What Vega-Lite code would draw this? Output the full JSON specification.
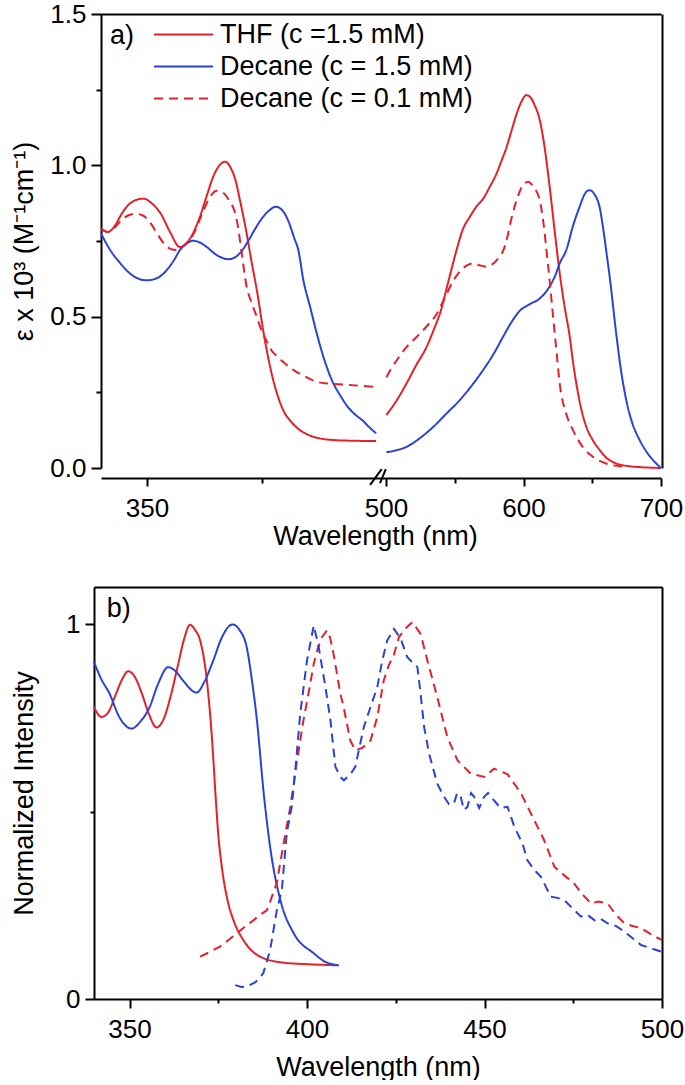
{
"$schema": "https://vega.github.io/schema/vega-lite/v6.json",
"background": "white",
"padding": {"left": 10, "top": 1, "right": 0, "bottom": 0},
"columns": 1,
"spacing": 38,
"config": {
  "font": "Liberation Sans",
  "view": {"stroke": null},
  "axis": {"domainColor": "#000", "domainWidth": 2, "tickColor": "#000", "tickWidth": 2, "labelColor": "#000", "titleColor": "#000", "labelFontSize": 26, "titleFontSize": 27, "titleFontWeight": "normal", "grid": false, "labelFont": "Liberation Sans", "titleFont": "Liberation Sans", "labelFlush": false, "labelOverlap": false},
  "legend": {"labelFont": "Liberation Sans", "labelFontSize": 27, "labelColor": "#000", "labelLimit": 500}
},
"resolve": {"scale": {"color": "independent", "strokeDash": "independent"}},
"concat": [
{
  "width": 568,
  "height": 454,
  "resolve": {"axis": {"x": "independent", "y": "independent"}},
  "layer": [
    {
      "data": {"values": [
        {"s":"T","g":"L","x":330,"y":0.79},{"s":"T","g":"L","x":333,"y":0.78},{"s":"T","g":"L","x":336,"y":0.8},{"s":"T","g":"L","x":339,"y":0.84},{"s":"T","g":"L","x":342,"y":0.87},{"s":"T","g":"L","x":345,"y":0.885},{"s":"T","g":"L","x":348.4,"y":0.89},{"s":"T","g":"L","x":352,"y":0.875},{"s":"T","g":"L","x":356,"y":0.84},{"s":"T","g":"L","x":360,"y":0.78},{"s":"T","g":"L","x":364.3,"y":0.73},{"s":"T","g":"L","x":368,"y":0.75},{"s":"T","g":"L","x":373,"y":0.83},{"s":"T","g":"L","x":376,"y":0.9},{"s":"T","g":"L","x":378.8,"y":0.963},{"s":"T","g":"L","x":381,"y":0.995},{"s":"T","g":"L","x":384,"y":1.012},{"s":"T","g":"L","x":386.5,"y":0.99},{"s":"T","g":"L","x":388.5,"y":0.95},{"s":"T","g":"L","x":390.4,"y":0.885},{"s":"T","g":"L","x":393.3,"y":0.776},{"s":"T","g":"L","x":395.5,"y":0.68},{"s":"T","g":"L","x":397.7,"y":0.59},{"s":"T","g":"L","x":401.3,"y":0.42},{"s":"T","g":"L","x":404.9,"y":0.29},{"s":"T","g":"L","x":409.3,"y":0.19},{"s":"T","g":"L","x":413,"y":0.15},{"s":"T","g":"L","x":416.5,"y":0.125},{"s":"T","g":"L","x":420,"y":0.11},{"s":"T","g":"L","x":425,"y":0.098},{"s":"T","g":"L","x":432,"y":0.092},{"s":"T","g":"L","x":440,"y":0.09},{"s":"T","g":"L","x":449.6,"y":0.089},
        {"s":"T","g":"R","x":500.3,"y":0.175},{"s":"T","g":"R","x":508,"y":0.225},{"s":"T","g":"R","x":515,"y":0.28},{"s":"T","g":"R","x":522,"y":0.34},{"s":"T","g":"R","x":529.5,"y":0.4},{"s":"T","g":"R","x":535,"y":0.46},{"s":"T","g":"R","x":539.2,"y":0.51},{"s":"T","g":"R","x":545,"y":0.61},{"s":"T","g":"R","x":551.3,"y":0.72},{"s":"T","g":"R","x":556,"y":0.79},{"s":"T","g":"R","x":561,"y":0.83},{"s":"T","g":"R","x":566,"y":0.865},{"s":"T","g":"R","x":570.7,"y":0.89},{"s":"T","g":"R","x":575,"y":0.925},{"s":"T","g":"R","x":580.4,"y":0.973},{"s":"T","g":"R","x":584,"y":1.015},{"s":"T","g":"R","x":587.7,"y":1.06},{"s":"T","g":"R","x":591,"y":1.11},{"s":"T","g":"R","x":595,"y":1.17},{"s":"T","g":"R","x":599,"y":1.215},{"s":"T","g":"R","x":602,"y":1.232},{"s":"T","g":"R","x":605,"y":1.225},{"s":"T","g":"R","x":608,"y":1.2},{"s":"T","g":"R","x":611.8,"y":1.15},{"s":"T","g":"R","x":615,"y":1.07},{"s":"T","g":"R","x":619,"y":0.93},{"s":"T","g":"R","x":622.5,"y":0.79},{"s":"T","g":"R","x":626,"y":0.655},{"s":"T","g":"R","x":630,"y":0.53},{"s":"T","g":"R","x":633.6,"y":0.435},{"s":"T","g":"R","x":636,"y":0.35},{"s":"T","g":"R","x":638.4,"y":0.28},{"s":"T","g":"R","x":642,"y":0.195},{"s":"T","g":"R","x":645.6,"y":0.137},{"s":"T","g":"R","x":650,"y":0.095},{"s":"T","g":"R","x":655.3,"y":0.06},{"s":"T","g":"R","x":660,"y":0.035},{"s":"T","g":"R","x":667.4,"y":0.015},{"s":"T","g":"R","x":675,"y":0.007},{"s":"T","g":"R","x":684.4,"y":0.003},{"s":"T","g":"R","x":700,"y":0.0},
        {"s":"B","g":"L","x":330,"y":0.775},{"s":"B","g":"L","x":334,"y":0.72},{"s":"B","g":"L","x":338,"y":0.68},{"s":"B","g":"L","x":341,"y":0.654},{"s":"B","g":"L","x":345,"y":0.63},{"s":"B","g":"L","x":350,"y":0.62},{"s":"B","g":"L","x":355,"y":0.63},{"s":"B","g":"L","x":358.6,"y":0.654},{"s":"B","g":"L","x":362,"y":0.69},{"s":"B","g":"L","x":364.3,"y":0.72},{"s":"B","g":"L","x":367,"y":0.74},{"s":"B","g":"L","x":370,"y":0.751},{"s":"B","g":"L","x":373,"y":0.745},{"s":"B","g":"L","x":376,"y":0.73},{"s":"B","g":"L","x":380,"y":0.705},{"s":"B","g":"L","x":385.4,"y":0.69},{"s":"B","g":"L","x":388,"y":0.695},{"s":"B","g":"L","x":391,"y":0.715},{"s":"B","g":"L","x":394,"y":0.75},{"s":"B","g":"L","x":397,"y":0.79},{"s":"B","g":"L","x":400,"y":0.825},{"s":"B","g":"L","x":403,"y":0.85},{"s":"B","g":"L","x":406,"y":0.863},{"s":"B","g":"L","x":409,"y":0.85},{"s":"B","g":"L","x":411.5,"y":0.815},{"s":"B","g":"L","x":414,"y":0.76},{"s":"B","g":"L","x":415.8,"y":0.72},{"s":"B","g":"L","x":418,"y":0.62},{"s":"B","g":"L","x":421,"y":0.53},{"s":"B","g":"L","x":423.8,"y":0.445},{"s":"B","g":"L","x":427,"y":0.36},{"s":"B","g":"L","x":431,"y":0.28},{"s":"B","g":"L","x":434,"y":0.24},{"s":"B","g":"L","x":437,"y":0.205},{"s":"B","g":"L","x":440,"y":0.18},{"s":"B","g":"L","x":444,"y":0.155},{"s":"B","g":"L","x":447,"y":0.132},{"s":"B","g":"L","x":449.6,"y":0.115},
        {"s":"B","g":"R","x":500.3,"y":0.052},{"s":"B","g":"R","x":507,"y":0.058},{"s":"B","g":"R","x":515,"y":0.07},{"s":"B","g":"R","x":525,"y":0.1},{"s":"B","g":"R","x":534.4,"y":0.136},{"s":"B","g":"R","x":544,"y":0.18},{"s":"B","g":"R","x":553.8,"y":0.225},{"s":"B","g":"R","x":562,"y":0.27},{"s":"B","g":"R","x":570.7,"y":0.324},{"s":"B","g":"R","x":578,"y":0.375},{"s":"B","g":"R","x":585.2,"y":0.434},{"s":"B","g":"R","x":591,"y":0.48},{"s":"B","g":"R","x":597.4,"y":0.52},{"s":"B","g":"R","x":604,"y":0.54},{"s":"B","g":"R","x":611.8,"y":0.56},{"s":"B","g":"R","x":616,"y":0.58},{"s":"B","g":"R","x":619,"y":0.6},{"s":"B","g":"R","x":623,"y":0.635},{"s":"B","g":"R","x":626.3,"y":0.676},{"s":"B","g":"R","x":631.1,"y":0.72},{"s":"B","g":"R","x":636,"y":0.8},{"s":"B","g":"R","x":640.8,"y":0.863},{"s":"B","g":"R","x":644.5,"y":0.905},{"s":"B","g":"R","x":648,"y":0.918},{"s":"B","g":"R","x":651.5,"y":0.905},{"s":"B","g":"R","x":655.3,"y":0.863},{"s":"B","g":"R","x":658,"y":0.79},{"s":"B","g":"R","x":660.1,"y":0.72},{"s":"B","g":"R","x":663,"y":0.62},{"s":"B","g":"R","x":667.4,"y":0.445},{"s":"B","g":"R","x":671,"y":0.32},{"s":"B","g":"R","x":674.7,"y":0.225},{"s":"B","g":"R","x":679,"y":0.15},{"s":"B","g":"R","x":684.4,"y":0.093},{"s":"B","g":"R","x":690,"y":0.05},{"s":"B","g":"R","x":695,"y":0.022},{"s":"B","g":"R","x":700,"y":0.0},
        {"s":"D","g":"L","x":330,"y":0.79},{"s":"D","g":"L","x":333,"y":0.78},{"s":"D","g":"L","x":336,"y":0.795},{"s":"D","g":"L","x":339,"y":0.82},{"s":"D","g":"L","x":342,"y":0.835},{"s":"D","g":"L","x":345,"y":0.84},{"s":"D","g":"L","x":348,"y":0.835},{"s":"D","g":"L","x":351,"y":0.815},{"s":"D","g":"L","x":354,"y":0.78},{"s":"D","g":"L","x":357,"y":0.745},{"s":"D","g":"L","x":360,"y":0.725},{"s":"D","g":"L","x":363,"y":0.72},{"s":"D","g":"L","x":366,"y":0.735},{"s":"D","g":"L","x":370,"y":0.77},{"s":"D","g":"L","x":374,"y":0.84},{"s":"D","g":"L","x":377,"y":0.89},{"s":"D","g":"L","x":380.3,"y":0.916},{"s":"D","g":"L","x":383,"y":0.91},{"s":"D","g":"L","x":386,"y":0.88},{"s":"D","g":"L","x":388,"y":0.85},{"s":"D","g":"L","x":389.5,"y":0.8},{"s":"D","g":"L","x":391,"y":0.72},{"s":"D","g":"L","x":393.3,"y":0.6},{"s":"D","g":"L","x":395.5,"y":0.545},{"s":"D","g":"L","x":397.7,"y":0.5},{"s":"D","g":"L","x":400,"y":0.45},{"s":"D","g":"L","x":402,"y":0.42},{"s":"D","g":"L","x":404,"y":0.39},{"s":"D","g":"L","x":406.4,"y":0.37},{"s":"D","g":"L","x":410,"y":0.345},{"s":"D","g":"L","x":413.6,"y":0.324},{"s":"D","g":"L","x":418,"y":0.305},{"s":"D","g":"L","x":423.8,"y":0.285},{"s":"D","g":"L","x":430,"y":0.278},{"s":"D","g":"L","x":435.4,"y":0.276},{"s":"D","g":"L","x":442,"y":0.272},{"s":"D","g":"L","x":449.9,"y":0.268},
        {"s":"D","g":"R","x":500.3,"y":0.3},{"s":"D","g":"R","x":504,"y":0.33},{"s":"D","g":"R","x":508,"y":0.357},{"s":"D","g":"R","x":515,"y":0.4},{"s":"D","g":"R","x":522.5,"y":0.434},{"s":"D","g":"R","x":530,"y":0.47},{"s":"D","g":"R","x":537,"y":0.51},{"s":"D","g":"R","x":543,"y":0.565},{"s":"D","g":"R","x":549.1,"y":0.62},{"s":"D","g":"R","x":556,"y":0.66},{"s":"D","g":"R","x":563.6,"y":0.676},{"s":"D","g":"R","x":568,"y":0.67},{"s":"D","g":"R","x":573.4,"y":0.665},{"s":"D","g":"R","x":577,"y":0.672},{"s":"D","g":"R","x":580.6,"y":0.687},{"s":"D","g":"R","x":585.4,"y":0.72},{"s":"D","g":"R","x":587.7,"y":0.753},{"s":"D","g":"R","x":591,"y":0.82},{"s":"D","g":"R","x":595,"y":0.885},{"s":"D","g":"R","x":599,"y":0.93},{"s":"D","g":"R","x":603.4,"y":0.946},{"s":"D","g":"R","x":607,"y":0.93},{"s":"D","g":"R","x":611.8,"y":0.885},{"s":"D","g":"R","x":614.5,"y":0.81},{"s":"D","g":"R","x":616.7,"y":0.72},{"s":"D","g":"R","x":619,"y":0.62},{"s":"D","g":"R","x":621.5,"y":0.5},{"s":"D","g":"R","x":624,"y":0.385},{"s":"D","g":"R","x":626.3,"y":0.28},{"s":"D","g":"R","x":631,"y":0.18},{"s":"D","g":"R","x":636,"y":0.125},{"s":"D","g":"R","x":643,"y":0.07},{"s":"D","g":"R","x":650.5,"y":0.037},{"s":"D","g":"R","x":660,"y":0.015},{"s":"D","g":"R","x":672,"y":0.005}
      ]},
      "mark": {"type": "line", "strokeWidth": 2, "interpolate": "monotone"},
      "encoding": {
        "x": {"field": "x", "type": "quantitative", "scale": {"domain": [330, 450, 500, 700], "range": [7, 283, 292, 567], "nice": false, "zero": false},
          "axis": {"orient": "bottom", "offset": 10, "values": [350, 400, 500, 550, 600, 650, 700],
            "labelExpr": "indexof([350,500,600,700], datum.value) >= 0 ? format(datum.value, 'd') : ''",
            "tickSize": {"condition": {"test": "indexof([400,550,650], datum.value) >= 0", "value": 5}, "value": 8},
            "labelPadding": 9, "title": "Wavelength (nm)", "titlePadding": 2, "titleX": 281}},
        "y": {"field": "y", "type": "quantitative", "scale": {"domain": [0, 1.5], "nice": false},
          "axis": {"orient": "left", "offset": -7, "values": [0, 0.25, 0.5, 0.75, 1, 1.25, 1.5],
            "labelExpr": "(datum.value == 0.25 || datum.value == 0.75 || datum.value == 1.25) ? '' : format(datum.value, '.1f')",
            "tickSize": {"condition": {"test": "datum.value == 0.25 || datum.value == 0.75 || datum.value == 1.25", "value": 5}, "value": 10},
            "labelPadding": 5, "title": "ε x 10³ (M⁻¹cm⁻¹)", "titlePadding": 11}},
        "detail": {"field": "g"},
        "color": {"field": "s", "type": "nominal", "scale": {"domain": ["T", "B", "D"], "range": ["#E6202A", "#2B42D8", "#E6202A"]},
          "legend": {"title": null, "orient": "none", "legendX": 76, "legendY": 7, "padding": 0, "symbolType": "M-2.95,0H2.95", "symbolSize": 400, "symbolStrokeWidth": 2, "labelOffset": 23, "rowPadding": 4,
            "labelExpr": "datum.label == 'T' ? 'THF (c =1.5 mM)' : datum.label == 'B' ? 'Decane (c = 1.5 mM)' : 'Decane (c = 0.1 mM)'"}},
        "strokeDash": {"field": "s", "type": "nominal", "scale": {"domain": ["T", "B", "D"], "range": [[1, 0], [1, 0], [9, 6]]},
          "legend": {"title": null, "orient": "none", "legendX": 76, "legendY": 7, "padding": 0, "symbolType": "M-2.95,0H2.95", "symbolSize": 400, "symbolStrokeWidth": 2, "labelOffset": 23, "rowPadding": 4,
            "labelExpr": "datum.label == 'T' ? 'THF (c =1.5 mM)' : datum.label == 'B' ? 'Decane (c = 1.5 mM)' : 'Decane (c = 0.1 mM)'"}}
      }
    },
    {
      "data": {"values": [{"t": "a)", "x": 333.9, "y": 1.427}]},
      "mark": {"type": "text", "align": "left", "baseline": "middle", "fontSize": 27, "font": "Liberation Sans", "color": "#000"},
      "encoding": {
        "x": {"field": "x", "type": "quantitative", "axis": {"orient": "top", "ticks": false, "labels": false, "title": null}},
        "y": {"field": "y", "type": "quantitative", "axis": {"orient": "right", "ticks": false, "labels": false, "title": null}},
        "text": {"field": "t"}
      }
    },
    {
      "data": {"values": [{"x": 447, "x2": 476, "y": -0.056, "y2": -0.004}, {"x": 466.7, "x2": 499, "y": -0.05, "y2": -0.004}]},
      "mark": {"type": "rule", "strokeWidth": 2, "color": "#000"},
      "encoding": {
        "x": {"field": "x", "type": "quantitative", "axis": null},
        "x2": {"field": "x2"},
        "y": {"field": "y", "type": "quantitative", "axis": null},
        "y2": {"field": "y2"}
      }
    }
  ]
},
{
  "width": 568,
  "height": 412,
  "resolve": {"axis": {"x": "independent", "y": "independent"}},
  "layer": [
    {
      "data": {"values": [
        {"s":"AT","x":340,"y":0.78},{"s":"AT","x":342.1,"y":0.753},{"s":"AT","x":344,"y":0.765},{"s":"AT","x":346,"y":0.81},{"s":"AT","x":348,"y":0.855},{"s":"AT","x":349.6,"y":0.875},{"s":"AT","x":351.5,"y":0.86},{"s":"AT","x":353.5,"y":0.815},{"s":"AT","x":355.5,"y":0.76},{"s":"AT","x":357.6,"y":0.725},{"s":"AT","x":359.5,"y":0.745},{"s":"AT","x":361.5,"y":0.805},{"s":"AT","x":363.5,"y":0.885},{"s":"AT","x":365.5,"y":0.965},{"s":"AT","x":367,"y":0.999},{"s":"AT","x":368.5,"y":0.985},{"s":"AT","x":369.9,"y":0.957},{"s":"AT","x":371.8,"y":0.85},{"s":"AT","x":373.2,"y":0.7},{"s":"AT","x":374.4,"y":0.52},{"s":"AT","x":375,"y":0.44},{"s":"AT","x":376,"y":0.353},{"s":"AT","x":377.4,"y":0.273},{"s":"AT","x":379.3,"y":0.21},{"s":"AT","x":382.1,"y":0.157},{"s":"AT","x":386.8,"y":0.113},{"s":"AT","x":393.4,"y":0.097},{"s":"AT","x":400,"y":0.093},{"s":"AT","x":408.9,"y":0.09},
        {"s":"AD","x":340,"y":0.9},{"s":"AD","x":342,"y":0.855},{"s":"AD","x":344.4,"y":0.815},{"s":"AD","x":347,"y":0.755},{"s":"AD","x":350.6,"y":0.722},{"s":"AD","x":353,"y":0.74},{"s":"AD","x":355.7,"y":0.78},{"s":"AD","x":358,"y":0.84},{"s":"AD","x":360.9,"y":0.886},{"s":"AD","x":363,"y":0.875},{"s":"AD","x":365.1,"y":0.85},{"s":"AD","x":368.9,"y":0.818},{"s":"AD","x":371,"y":0.845},{"s":"AD","x":373.6,"y":0.904},{"s":"AD","x":376,"y":0.965},{"s":"AD","x":379,"y":1.0},{"s":"AD","x":381,"y":0.985},{"s":"AD","x":383,"y":0.94},{"s":"AD","x":384.5,"y":0.85},{"s":"AD","x":385.9,"y":0.744},{"s":"AD","x":387.8,"y":0.55},{"s":"AD","x":389.7,"y":0.4},{"s":"AD","x":392.5,"y":0.264},{"s":"AD","x":396.3,"y":0.175},{"s":"AD","x":401.9,"y":0.122},{"s":"AD","x":405,"y":0.1},{"s":"AD","x":408.9,"y":0.09}
      ]},
      "mark": {"type": "line", "strokeWidth": 2, "interpolate": "monotone"},
      "encoding": {
        "x": {"field": "x", "type": "quantitative", "scale": {"domain": [340, 500], "nice": false, "zero": false},
          "axis": {"orient": "bottom", "values": [350, 375, 400, 425, 450, 475, 500],
            "labelExpr": "datum.value % 50 == 0 ? format(datum.value, 'd') : ''",
            "tickSize": {"condition": {"test": "datum.value % 50 != 0", "value": 4}, "value": 9},
            "labelPadding": 8, "title": "Wavelength (nm)", "titlePadding": 12}},
        "y": {"field": "y", "type": "quantitative", "scale": {"domain": [0, 1.1], "nice": false},
          "axis": {"orient": "left", "values": [0, 0.5, 1],
            "labelExpr": "datum.value == 0.5 ? '' : format(datum.value, 'd')",
            "tickSize": {"condition": {"test": "datum.value == 0.5", "value": 4}, "value": 9},
            "labelPadding": 5, "title": "Normalized Intensity", "titlePadding": 27}},
        "color": {"field": "s", "type": "nominal", "scale": {"domain": ["AT", "AD", "ET", "ED"], "range": ["#E6202A", "#2B42D8", "#E6202A", "#2B42D8"]}, "legend": null},
        "strokeDash": {"field": "s", "type": "nominal", "scale": {"domain": ["AT", "AD", "ET", "ED"], "range": [[1, 0], [1, 0], [9, 6], [9, 6]]}, "legend": null}
      }
    },
    {
      "data": {"values": [
        {"s":"ET","x":369.9,"y":0.113},{"s":"ET","x":372.5,"y":0.125},{"s":"ET","x":375.5,"y":0.14},{"s":"ET","x":378,"y":0.158},{"s":"ET","x":380.2,"y":0.175},{"s":"ET","x":382.5,"y":0.193},{"s":"ET","x":384.9,"y":0.21},{"s":"ET","x":386.8,"y":0.225},{"s":"ET","x":388.7,"y":0.237},{"s":"ET","x":390,"y":0.27},{"s":"ET","x":391.5,"y":0.31},{"s":"ET","x":393.4,"y":0.415},{"s":"ET","x":395.3,"y":0.513},{"s":"ET","x":397.2,"y":0.637},{"s":"ET","x":399,"y":0.744},{"s":"ET","x":400.5,"y":0.82},{"s":"ET","x":401.9,"y":0.895},{"s":"ET","x":403,"y":0.935},{"s":"ET","x":404.2,"y":0.966},{"s":"ET","x":405.6,"y":0.984},{"s":"ET","x":406.5,"y":0.965},{"s":"ET","x":407.5,"y":0.92},{"s":"ET","x":409.4,"y":0.815},{"s":"ET","x":410.3,"y":0.78},{"s":"ET","x":412.2,"y":0.69},{"s":"ET","x":413.6,"y":0.664},{"s":"ET","x":415.5,"y":0.67},{"s":"ET","x":417.9,"y":0.69},{"s":"ET","x":419.8,"y":0.753},{"s":"ET","x":421.6,"y":0.85},{"s":"ET","x":423,"y":0.89},{"s":"ET","x":424.5,"y":0.92},{"s":"ET","x":425.9,"y":0.966},{"s":"ET","x":427.8,"y":0.99},{"s":"ET","x":429.7,"y":1.006},{"s":"ET","x":432,"y":0.975},{"s":"ET","x":433.9,"y":0.904},{"s":"ET","x":436.7,"y":0.806},{"s":"ET","x":439.5,"y":0.7},{"s":"ET","x":442.4,"y":0.637},{"s":"ET","x":446.1,"y":0.602},{"s":"ET","x":449.9,"y":0.593},{"s":"ET","x":452.7,"y":0.615},{"s":"ET","x":456.5,"y":0.6},{"s":"ET","x":460.3,"y":0.549},{"s":"ET","x":463.1,"y":0.495},{"s":"ET","x":466.8,"y":0.424},{"s":"ET","x":469.7,"y":0.353},{"s":"ET","x":472.5,"y":0.33},{"s":"ET","x":475.3,"y":0.308},{"s":"ET","x":477.5,"y":0.28},{"s":"ET","x":480,"y":0.255},{"s":"ET","x":482,"y":0.26},{"s":"ET","x":484.7,"y":0.255},{"s":"ET","x":487,"y":0.225},{"s":"ET","x":489.4,"y":0.202},{"s":"ET","x":491.7,"y":0.195},{"s":"ET","x":494.1,"y":0.189},{"s":"ET","x":497,"y":0.172},{"s":"ET","x":500,"y":0.157},
        {"s":"ED","x":379.8,"y":0.037},{"s":"ED","x":381.5,"y":0.032},{"s":"ED","x":383,"y":0.033},{"s":"ED","x":385.5,"y":0.045},{"s":"ED","x":387.7,"y":0.069},{"s":"ED","x":389.6,"y":0.13},{"s":"ED","x":391.5,"y":0.237},{"s":"ED","x":392.9,"y":0.29},{"s":"ED","x":394.3,"y":0.443},{"s":"ED","x":395.7,"y":0.513},{"s":"ED","x":396.7,"y":0.61},{"s":"ED","x":398.1,"y":0.762},{"s":"ED","x":400,"y":0.904},{"s":"ED","x":401.9,"y":0.997},{"s":"ED","x":403.3,"y":0.94},{"s":"ED","x":404.7,"y":0.86},{"s":"ED","x":405.2,"y":0.833},{"s":"ED","x":406.6,"y":0.744},{"s":"ED","x":408,"y":0.62},{"s":"ED","x":409.4,"y":0.593},{"s":"ED","x":410.4,"y":0.584},{"s":"ED","x":412.2,"y":0.6},{"s":"ED","x":413.6,"y":0.62},{"s":"ED","x":416,"y":0.726},{"s":"ED","x":417.9,"y":0.78},{"s":"ED","x":419.8,"y":0.833},{"s":"ED","x":421.2,"y":0.904},{"s":"ED","x":422.6,"y":0.957},{"s":"ED","x":424.5,"y":0.988},{"s":"ED","x":426.4,"y":0.962},{"s":"ED","x":428.2,"y":0.913},{"s":"ED","x":431.1,"y":0.886},{"s":"ED","x":432,"y":0.815},{"s":"ED","x":433,"y":0.726},{"s":"ED","x":434.4,"y":0.655},{"s":"ED","x":436.7,"y":0.575},{"s":"ED","x":438.6,"y":0.54},{"s":"ED","x":440,"y":0.52},{"s":"ED","x":441.4,"y":0.522},{"s":"ED","x":442.3,"y":0.55},{"s":"ED","x":443.3,"y":0.54},{"s":"ED","x":444.2,"y":0.505},{"s":"ED","x":445.2,"y":0.513},{"s":"ED","x":446.2,"y":0.55},{"s":"ED","x":447.1,"y":0.54},{"s":"ED","x":448.5,"y":0.51},{"s":"ED","x":449.9,"y":0.54},{"s":"ED","x":451,"y":0.55},{"s":"ED","x":452.7,"y":0.53},{"s":"ED","x":454.5,"y":0.51},{"s":"ED","x":456.5,"y":0.513},{"s":"ED","x":458.4,"y":0.46},{"s":"ED","x":460.7,"y":0.415},{"s":"ED","x":462.1,"y":0.37},{"s":"ED","x":464,"y":0.345},{"s":"ED","x":465.9,"y":0.326},{"s":"ED","x":468.7,"y":0.273},{"s":"ED","x":470.5,"y":0.27},{"s":"ED","x":472.5,"y":0.264},{"s":"ED","x":475,"y":0.24},{"s":"ED","x":477.2,"y":0.22},{"s":"ED","x":479,"y":0.225},{"s":"ED","x":481,"y":0.21},{"s":"ED","x":482.5,"y":0.215},{"s":"ED","x":484.7,"y":0.202},{"s":"ED","x":487,"y":0.195},{"s":"ED","x":489.4,"y":0.18},{"s":"ED","x":492,"y":0.16},{"s":"ED","x":494.1,"y":0.144},{"s":"ED","x":497,"y":0.135},{"s":"ED","x":500,"y":0.126}
      ]},
      "mark": {"type": "line", "strokeWidth": 2},
      "encoding": {
        "x": {"field": "x", "type": "quantitative", "axis": null},
        "y": {"field": "y", "type": "quantitative", "axis": null},
        "color": {"field": "s", "type": "nominal", "legend": null},
        "strokeDash": {"field": "s", "type": "nominal", "legend": null}
      }
    },
    {
      "data": {"values": [{"t": "b)", "x": 343.6, "y": 1.041}]},
      "mark": {"type": "text", "align": "left", "baseline": "middle", "fontSize": 27, "font": "Liberation Sans", "color": "#000"},
      "encoding": {
        "x": {"field": "x", "type": "quantitative", "axis": {"orient": "top", "ticks": false, "labels": false, "title": null}},
        "y": {"field": "y", "type": "quantitative", "axis": {"orient": "right", "ticks": false, "labels": false, "title": null}},
        "text": {"field": "t"}
      }
    }
  ]
}
]
}
